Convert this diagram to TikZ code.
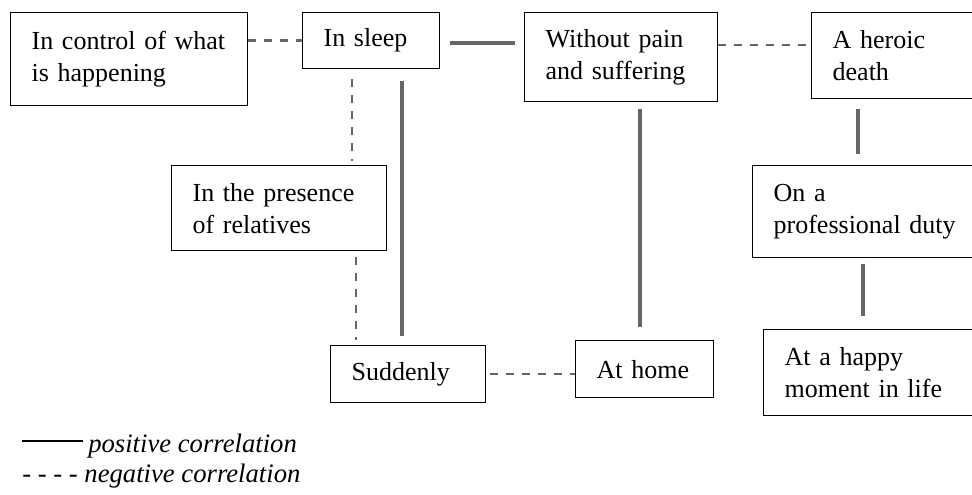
\documentclass[tikz,border=0pt]{standalone}
\usepackage{fontspec}
\setmainfont{Liberation Serif}
\usetikzlibrary{calc}

\begin{document}
\begin{tikzpicture}[x=0.75pt,y=-0.75pt,
  box/.style={draw=black, line width=1pt, anchor=north west, align=left,
    inner xsep=15.75pt, inner ysep=3pt, font=\fontsize{19.5pt}{24pt}\selectfont},
  posline/.style={draw=black!60, line width=2.3pt},
  negline/.style={draw=black!60, line width=2pt, dash pattern=on 6pt off 6pt},
  legtext/.style={anchor=base west, inner sep=0pt, font=\fontsize{20pt}{24pt}\selectfont\itshape}]
\clip (0,0) rectangle (972,495);
% boxes
\node[box, text width=146.25pt, minimum height=69.75pt] (ctrl) at (10,12) {In control of what\\is happening};
\node[box, text width=71.25pt, minimum height=42pt] (sleep) at (302,12) {In sleep};
\node[box, text width=113.25pt, minimum height=66.75pt] (pain) at (524,12) {Without pain\\and suffering};
\node[box, text width=102.75pt, minimum height=64.5pt] (heroic) at (811,12) {A heroic\\death};
\node[box, text width=129.75pt, minimum height=63.75pt] (presence) at (171,165) {In the presence\\of relatives};
\node[box, text width=150.75pt, minimum height=69pt] (duty) at (752,165) {On a\\professional duty};
\node[box, text width=84.75pt, minimum height=42.75pt] (sudden) at (330,345) {Suddenly};
\node[box, text width=72pt, minimum height=42.75pt] (home) at (575,340) {At home};
\node[box, text width=142.5pt, minimum height=64.5pt] (happy) at (763,329) {At a happy\\moment in life};
% correlations
\draw[negline] (ctrl.east |- sleep.west) -- (sleep.west);
\draw[posline, shorten <=7pt, shorten >=7pt] (sleep.east |- 0,43) -- (pain.west |- 0,43);
\draw[negline] (pain.east |- 0,45) -- (heroic.west |- 0,45);
\draw[negline, shorten <=7pt, shorten >=3pt] (352,0 |- sleep.south) -- (352,0 |- presence.north);
\draw[posline, shorten <=9pt, shorten >=7pt] (402,0 |- sleep.south) -- (402,0 |- sudden.north);
\draw[negline, shorten <=4pt, shorten >=4pt] (356,0 |- presence.south) -- (356,0 |- sudden.north);
\draw[negline, shorten <=3pt] (sudden.east |- 0,374) -- (home.west |- 0,374);
\draw[posline, shorten <=5pt, shorten >=10pt] (640,0 |- pain.south) -- (640,0 |- home.north);
\draw[posline, shorten <=7pt, shorten >=8pt] (858,0 |- heroic.south) -- (858,0 |- duty.north);
\draw[posline, shorten <=4pt, shorten >=10pt] (863,0 |- duty.south) -- (863,0 |- happy.north);
% legend
\coordinate (lgA) at (22,441);
\coordinate (lgB) at (83,441);
\draw[black, line width=1pt] (lgA) -- (lgB);
\node[legtext] (lgpos) at (88,453) {positive correlation};
\node[legtext] (lgneg) at (22,483) {- - - - negative correlation};
\end{tikzpicture}
\end{document}
